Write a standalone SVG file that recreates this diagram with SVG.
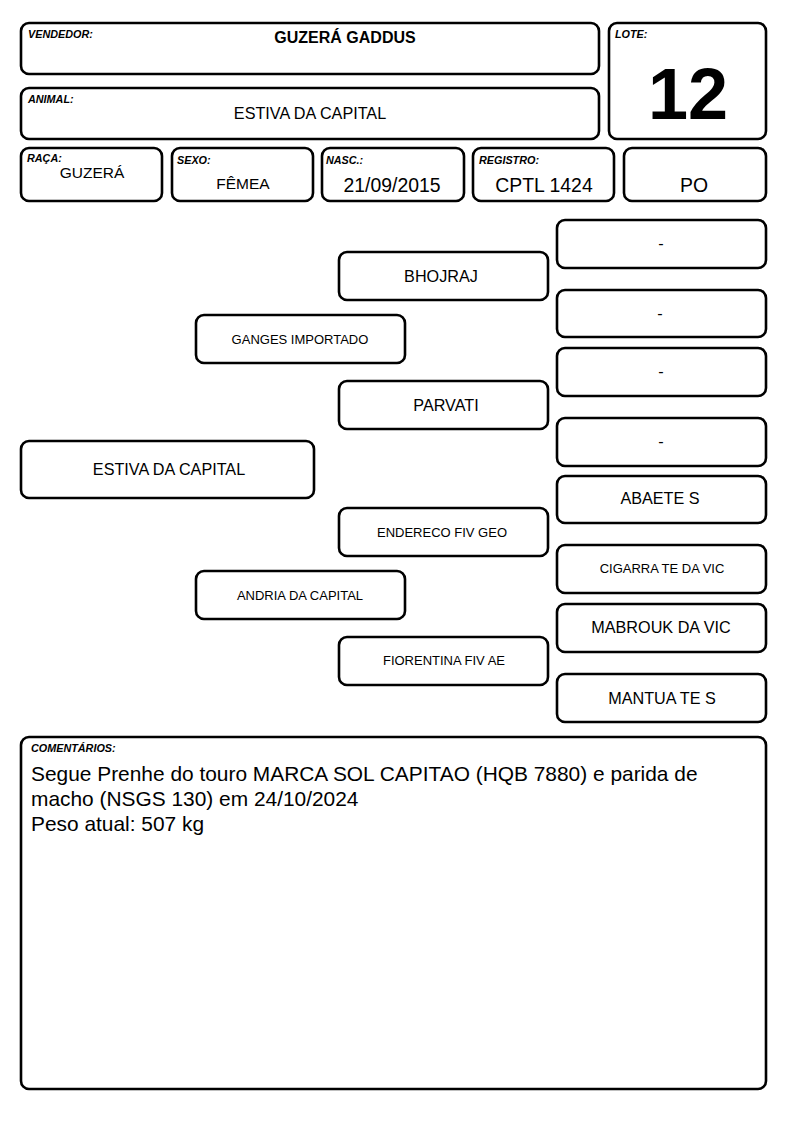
<svg xmlns="http://www.w3.org/2000/svg" width="794" height="1123" viewBox="0 0 794 1123">
<style>
.b{fill:#fff;stroke:#000;stroke-width:2.6}
.lab{font-family:"Liberation Sans",Arial,sans-serif;font-size:10.8px;font-weight:bold;font-style:italic}
.t{font-family:"Liberation Sans",Arial,sans-serif;fill:#000;text-anchor:middle}
.m{font-size:16.2px}
.s{font-size:13px}
.l{font-size:19.4px}
.c{font-family:"Liberation Sans",Arial,sans-serif;font-size:20.9px}
</style>
<rect width="794" height="1123" fill="#fff"/>
<g id="vendedor"><rect class="b" x="21" y="23" width="578" height="51" rx="8"/><text class="lab" x="28" y="38">VENDEDOR:</text><text class="t" x="345" y="43" font-size="16" font-weight="bold">GUZERÁ GADDUS</text></g>
<g id="animal"><rect class="b" x="21" y="88" width="578" height="51" rx="8"/><text class="lab" x="28" y="103">ANIMAL:</text><text class="t m" x="310" y="119">ESTIVA DA CAPITAL</text></g>
<g id="lote"><rect class="b" x="609" y="23" width="157" height="116" rx="8"/><text class="lab" x="615" y="38">LOTE:</text><text class="t" x="688" y="119" font-size="72" font-weight="bold">12</text></g>
<g id="raca"><rect class="b" x="21" y="148" width="141" height="53" rx="8"/><text class="lab" x="27" y="162">RAÇA:</text><text class="t" x="92" y="178" font-size="15.5">GUZERÁ</text></g>
<g id="sexo"><rect class="b" x="172" y="148" width="141" height="53" rx="8"/><text class="lab" x="177" y="164">SEXO:</text><text class="t" x="243" y="189" font-size="15.5">FÊMEA</text></g>
<g id="nasc"><rect class="b" x="322" y="148" width="142" height="53" rx="8"/><text class="lab" x="326" y="164">NASC.:</text><text class="t l" x="392" y="192">21/09/2015</text></g>
<g id="registro"><rect class="b" x="473" y="148" width="141" height="53" rx="8"/><text class="lab" x="479" y="164">REGISTRO:</text><text class="t l" x="544" y="192">CPTL 1424</text></g>
<g id="po"><rect class="b" x="624" y="148" width="142" height="53" rx="8"/><text class="t l" x="694" y="192">PO</text></g>
<g id="connectors"></g>
<g id="n-animal"><rect class="b" x="21" y="441" width="293" height="57" rx="8"/><text class="t m" x="169" y="475">ESTIVA DA CAPITAL</text></g>
<g id="n-pai"><rect class="b" x="196" y="315" width="209" height="48" rx="8"/><text class="t s" x="300" y="344">GANGES IMPORTADO</text></g>
<g id="n-mae"><rect class="b" x="196" y="571" width="209" height="48" rx="8"/><text class="t s" x="300" y="600">ANDRIA DA CAPITAL</text></g>
<g id="n-avo1"><rect class="b" x="339" y="252" width="209" height="48" rx="8"/><text class="t m" x="441" y="282">BHOJRAJ</text></g>
<g id="n-avo2"><rect class="b" x="339" y="381" width="209" height="48" rx="8"/><text class="t m" x="446" y="411">PARVATI</text></g>
<g id="n-avo3"><rect class="b" x="339" y="508" width="209" height="48" rx="8"/><text class="t s" x="442" y="537">ENDERECO FIV GEO</text></g>
<g id="n-avo4"><rect class="b" x="339" y="637" width="209" height="48" rx="8"/><text class="t s" x="444" y="665">FIORENTINA FIV AE</text></g>
<g id="n-bis1"><rect class="b" x="557" y="220" width="209" height="48" rx="8"/><text class="t m" x="661" y="249">-</text></g>
<g id="n-bis2"><rect class="b" x="557" y="290" width="209" height="47" rx="8"/><text class="t m" x="660" y="319">-</text></g>
<g id="n-bis3"><rect class="b" x="557" y="348" width="209" height="48" rx="8"/><text class="t m" x="661" y="377">-</text></g>
<g id="n-bis4"><rect class="b" x="557" y="418" width="209" height="48" rx="8"/><text class="t m" x="661" y="447">-</text></g>
<g id="n-bis5"><rect class="b" x="557" y="476" width="209" height="47" rx="8"/><text class="t m" x="660" y="504">ABAETE S</text></g>
<g id="n-bis6"><rect class="b" x="557" y="545" width="209" height="48" rx="8"/><text class="t s" x="662" y="573">CIGARRA TE DA VIC</text></g>
<g id="n-bis7"><rect class="b" x="557" y="604" width="209" height="48" rx="8"/><text class="t m" x="661" y="633">MABROUK DA VIC</text></g>
<g id="n-bis8"><rect class="b" x="557" y="674" width="209" height="48" rx="8"/><text class="t m" x="662" y="704">MANTUA TE S</text></g>
<g id="comentarios"><rect class="b" x="21" y="737" width="745" height="352" rx="8"/><text class="lab" x="31" y="752">COMENTÁRIOS:</text>
<text class="c" x="31" y="781">Segue Prenhe do touro MARCA SOL CAPITAO (HQB 7880) e parida de</text>
<text class="c" x="31" y="806">macho (NSGS 130) em 24/10/2024</text>
<text class="c" x="31" y="831">Peso atual: 507 kg</text></g>
</svg>
